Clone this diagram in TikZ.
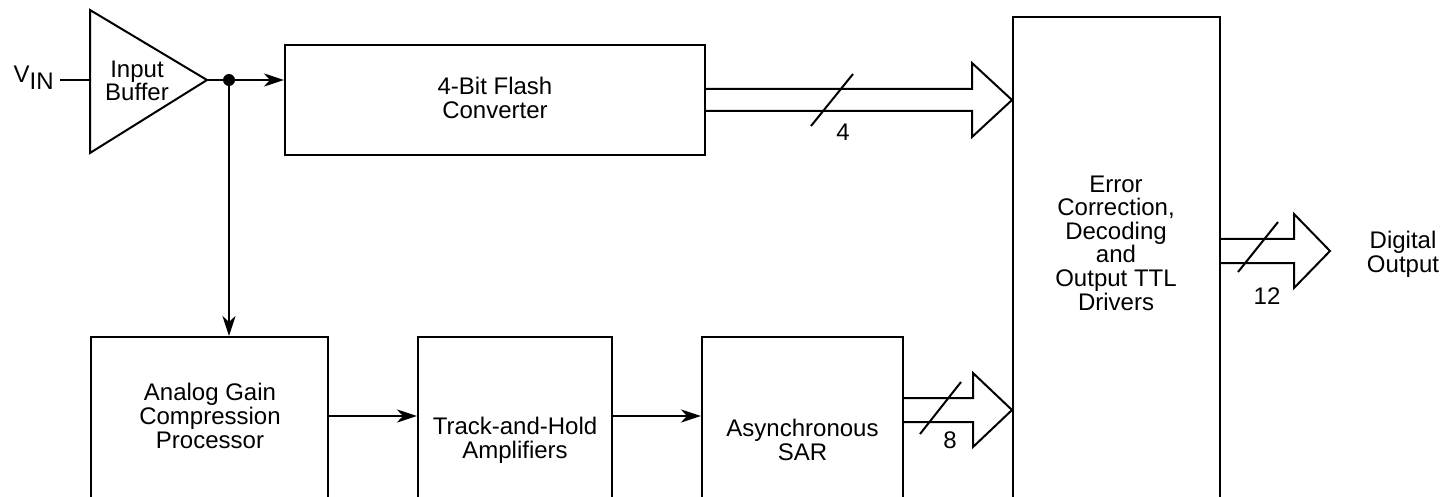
\documentclass[tikz,border=0pt]{standalone}
\usepackage{fontspec}
\setmainfont{Liberation Sans}
\usetikzlibrary{arrows.meta,positioning,calc}

\begin{document}
\begin{tikzpicture}[
    x=0.5pt,y=-0.5pt,
    font=\fontsize{12}{11.8}\selectfont,
    block/.style={draw,line width=1pt,inner sep=0pt,minimum height=91.5pt},
    txt/.style={align=center,inner sep=0pt},
    wire/.style={line width=1.4pt},
    arrow/.style={wire,-{Stealth[length=10pt,width=6.5pt,inset=3pt]}},
    bus/.style={line width=1pt,line join=miter},
    slash/.style={line width=1pt}
  ]
  \useasboundingbox (0,0) rectangle (1455,497);
  \clip (0,0) rectangle (1455,497);

  % input buffer
  \node[txt,anchor=east] (vin) at (54,78) {V\raisebox{-0.55ex}{IN}};
  \draw[line width=1pt] (90,10) -- (207,80) -- (90,153) -- cycle;
  \coordinate (bufin) at (90,80);
  \coordinate (bufout) at (207,80);
  \node[txt] (buf) at (137,81) {Input\\Buffer};
  \coordinate (split) at (229,80);

  % blocks
  \node[block,minimum width=210pt,minimum height=55pt] (flash) at (495,100) {};
  \node[txt] (flash-t) at (495,98) {4-Bit Flash\\Converter};
  \node[block,minimum width=103.5pt,minimum height=251.5pt] (ecc) at (1116.5,268.5) {};
  \node[txt] (ecc-t) at (1116,243) {Error\\Correction,\\Decoding\\and\\Output TTL\\Drivers};

  \node[block,minimum width=118.5pt] (agc) at (209.5,428.5) {};
  \node[block,minimum width=97pt,right=44pt of agc] (track) {};
  \node[block,minimum width=100.5pt,right=44pt of track] (async) {};
  \node[txt] (agc-t) at (210,416) {Analog Gain\\Compression\\Processor};
  \node[txt] (track-t) at (track.center |- 0,440) {Track-and-Hold\\Amplifiers};
  \node[txt] (async-t) at (async.center |- 0,440) {Asynchronous\\SAR};

  % wires
  \draw[wire] (vin.east |- bufin) ++(6,0) -- (bufin);
  \draw[wire] (bufout) -- (split);
  \fill (split) circle[radius=3pt];
  \draw[arrow] (split) -- (split -| flash.west);
  \draw[arrow] (split) -- (split |- agc.north);
  \draw[arrow] (agc-t -| agc.east) -- (agc-t -| track.west);
  \draw[arrow] (agc-t -| track.east) -- (agc-t -| async.west);

  % buses
  \draw[bus] ($(flash.east)+(0,-11)$) -- ($(flash.east -| ecc.west)+(-40,-11)$) -- ++(0,-26)
    -- (flash.east -| ecc.west) -- ++(-40,37) -- ++(0,-26) -- ($(flash.east)+(0,11)$);
  \draw[slash] ($(flash.east)+(105,26)$) -- ++(42,-52);
  \node[txt] (n4) at ($(flash.east)+(137,32)$) {4};

  \coordinate (o8) at ($(async.north east)+(0,74)$);
  \draw[bus] ($(o8)+(0,-12)$) -- ($(o8 -| ecc.west)+(-39,-12)$) -- ++(0,-25)
    -- (o8 -| ecc.west) -- ++(-39,37) -- ++(0,-25) -- ($(o8)+(0,12)$);
  \draw[slash] ($(o8)+(16,24)$) -- ++(41,-52);
  \node[txt] (n8) at ($(o8)+(46,30)$) {8};

  \coordinate (o12) at ($(ecc.north east)+(0,235)$);
  \draw[bus] ($(o12)+(0,-12)$) -- ++(73,0) -- ++(0,-25) -- ++(36,37)
    -- ++(-36,37) -- ++(0,-25) -- ($(o12)+(0,12)$);
  \draw[slash] ($(o12)+(17,21)$) -- ++(40,-50);
  \node[txt] (n12) at ($(o12)+(46,45)$) {12};
  \node[txt] (dout) at (1403,254) {Digital\\Output};
\end{tikzpicture}
\end{document}
